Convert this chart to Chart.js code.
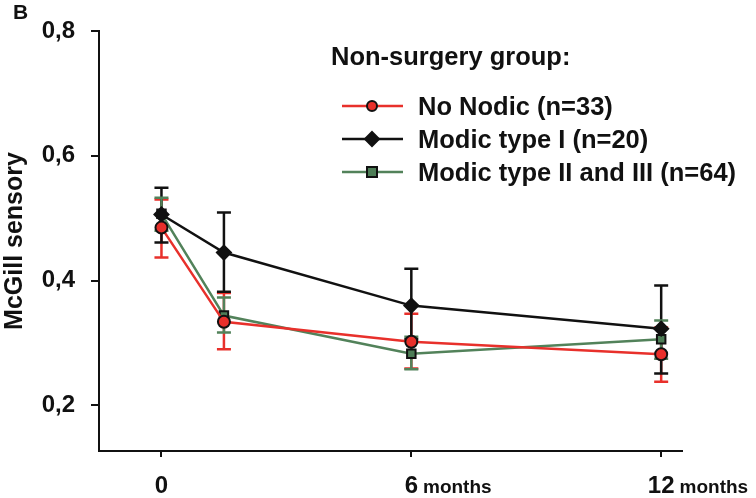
<!DOCTYPE html>
<html>
<head>
<meta charset="utf-8">
<script src="https://cdn.jsdelivr.net/npm/chart.js@4.4.1/dist/chart.umd.min.js"></script>
<style>
  html, body { margin: 0; padding: 0; background: #fff; }
  #wrap { width: 756px; height: 498px; position: relative; }
</style>
</head>
<body>
<div id="wrap"><canvas id="mcgill" width="756" height="498"></canvas></div>
<script>
// time points (months) and tick labels
const months = [0, 1.5, 6, 12];
const xTicks = [0, 6, 12];
const yTicks = [0.2, 0.4, 0.6, 0.8];

// series means
const noModic = [0.485, 0.334, 0.302, 0.282];
const modic1 = [0.506, 0.445, 0.360, 0.323];
const modic23 = [0.507, 0.344, 0.283, 0.306];

// error bar ends (low / high)
const noModicLow = [0.437, 0.290, 0.259, 0.238];
const noModicHigh = [0.530, 0.380, 0.347, 0.325];
const modic1Low = [0.461, 0.382, 0.306, 0.251];
const modic1High = [0.549, 0.509, 0.419, 0.392];
const modic23Low = [0.480, 0.317, 0.258, 0.275];
const modic23High = [0.533, 0.373, 0.310, 0.336];

const FONT = '"Liberation Sans", Arial, Helvetica, sans-serif';
const RED = '#e8302b';
const BLACK = '#111111';
const GREEN = '#52825a';
const GREEN_FILL = '#4d7d56';

function pts(vals) {
  return vals.map((v, i) => ({ x: months[i], y: v }));
}

// error bars, drawn under the lines and markers
const errorBars = {
  id: 'errorBars',
  beforeDatasetsDraw(chart) {
    const { ctx, scales } = chart;
    ctx.save();
    ctx.lineWidth = 2.5;
    chart.data.datasets.forEach(ds => {
      ctx.strokeStyle = ds.borderColor;
      ds.errLow.forEach((lo, i) => {
        const x = scales.x.getPixelForValue(months[i]);
        const y1 = scales.y.getPixelForValue(lo);
        const y2 = scales.y.getPixelForValue(ds.errHigh[i]);
        ctx.beginPath();
        ctx.moveTo(x, y1); ctx.lineTo(x, y2);
        ctx.moveTo(x - 7, y1); ctx.lineTo(x + 7, y1);
        ctx.moveTo(x - 7, y2); ctx.lineTo(x + 7, y2);
        ctx.stroke();
      });
    });
    ctx.restore();
  }
};

function marker(ctx, style, x, y, fill) {
  ctx.fillStyle = fill;
  ctx.strokeStyle = BLACK;
  ctx.lineWidth = 2;
  ctx.beginPath();
  if (style === 'circle') {
    ctx.arc(x, y, 5, 0, Math.PI * 2);
  } else if (style === 'rectRot') {
    ctx.moveTo(x, y - 7); ctx.lineTo(x + 7, y); ctx.lineTo(x, y + 7); ctx.lineTo(x - 7, y);
    ctx.closePath();
  } else {
    ctx.rect(x - 5, y - 5, 10, 10);
  }
  ctx.fill();
  ctx.stroke();
}

// legend, panel letter and "months" unit labels
const extras = {
  id: 'extras',
  afterDraw(chart) {
    const { ctx, scales } = chart;
    ctx.save();
    ctx.fillStyle = BLACK;
    ctx.textBaseline = 'alphabetic';
    ctx.textAlign = 'left';

    ctx.font = 'bold 21px ' + FONT;
    ctx.fillText('B', 13, 19);

    ctx.font = 'bold 25.5px ' + FONT;
    ctx.fillText('Non-surgery group:', 331, 65);

    const rowY = [106, 139, 172];
    chart.data.datasets.forEach((ds, i) => {
      const y = rowY[i];
      ctx.strokeStyle = ds.borderColor;
      ctx.lineWidth = 2.5;
      ctx.beginPath();
      ctx.moveTo(342, y); ctx.lineTo(403, y);
      ctx.stroke();
      marker(ctx, ds.pointStyle, 372, y, ds.pointBackgroundColor);
      ctx.fillStyle = BLACK;
      ctx.font = 'bold 25.5px ' + FONT;
      ctx.fillText(ds.label, 418, y + 9);
    });

    [6, 12].forEach(v => {
      const x = scales.x.getPixelForValue(v);
      ctx.font = 'bold 24px ' + FONT;
      const w = ctx.measureText(String(v)).width;
      ctx.font = 'bold 19px ' + FONT;
      ctx.fillText('months', x + w / 2 + 5, 493);
    });
    ctx.restore();
  }
};

new Chart(document.getElementById('mcgill'), {
  type: 'line',
  data: {
    datasets: [
      {
        label: 'No Nodic (n=33)',
        data: pts(noModic),
        errLow: noModicLow, errHigh: noModicHigh,
        borderColor: RED, borderWidth: 2.5,
        pointStyle: 'circle', pointRadius: 6,
        pointBackgroundColor: RED, pointBorderColor: BLACK, pointBorderWidth: 2
      },
      {
        label: 'Modic type I (n=20)',
        data: pts(modic1),
        errLow: modic1Low, errHigh: modic1High,
        borderColor: BLACK, borderWidth: 2.5,
        pointStyle: 'rectRot', pointRadius: 7,
        pointBackgroundColor: BLACK, pointBorderColor: BLACK, pointBorderWidth: 2
      },
      {
        label: 'Modic type II and III (n=64)',
        data: pts(modic23),
        errLow: modic23Low, errHigh: modic23High,
        borderColor: GREEN, borderWidth: 2.5,
        pointStyle: 'rect', pointRadius: 6,
        pointBackgroundColor: GREEN_FILL, pointBorderColor: BLACK, pointBorderWidth: 2
      }
    ]
  },
  options: {
    responsive: false,
    animation: false,
    events: [],
    layout: { padding: { top: 31, right: 74, bottom: 0, left: 0 } },
    plugins: { legend: { display: false }, tooltip: { enabled: false } },
    scales: {
      x: {
        type: 'linear',
        min: -1.5,
        max: 12.5,
        afterBuildTicks: s => { s.ticks = xTicks.map(v => ({ value: v })); },
        afterFit: s => { s.height = 47; },
        grid: { drawOnChartArea: false, tickLength: 6, color: BLACK, lineWidth: 2 },
        border: { color: BLACK, width: 2 },
        ticks: {
          color: BLACK, padding: 15, maxRotation: 0, autoSkip: false,
          font: { family: FONT, size: 24, weight: 'bold' },
          callback: v => String(v)
        }
      },
      y: {
        min: 0.127,
        max: 0.8,
        afterBuildTicks: s => { s.ticks = yTicks.map(v => ({ value: v })); },
        afterFit: s => { s.width = 99; },
        grid: { drawOnChartArea: false, tickLength: 8, color: BLACK, lineWidth: 2 },
        border: { color: BLACK, width: 2 },
        ticks: {
          color: BLACK, padding: 16,
          font: { family: FONT, size: 24, weight: 'bold' },
          callback: v => v.toFixed(1).replace('.', ',')
        },
        title: {
          display: true, text: 'McGill sensory', color: BLACK, padding: { top: 3, bottom: 0 },
          font: { family: FONT, size: 25, weight: 'bold', lineHeight: 1 }
        }
      }
    }
  },
  plugins: [errorBars, extras]
});
</script>
</body>
</html>
